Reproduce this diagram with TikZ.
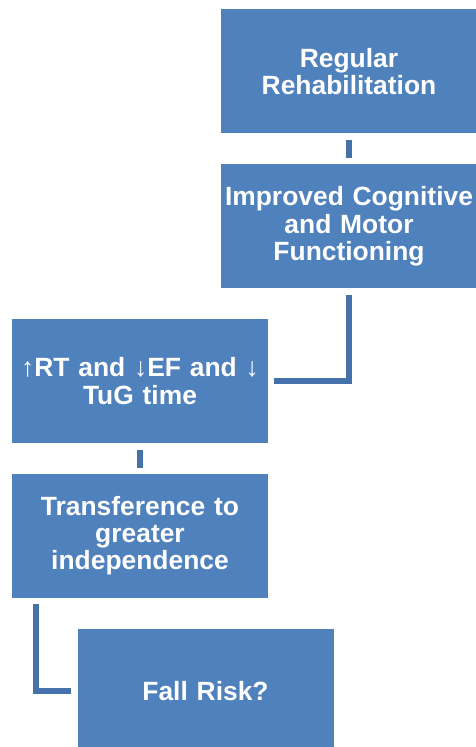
\documentclass[tikz,border=0pt]{standalone}
\usepackage{fontspec}
\setmainfont{Liberation Sans}
\usetikzlibrary{positioning}
\definecolor{boxblue}{HTML}{4F81BD}
\definecolor{linkblue}{HTML}{4672AB}

\begin{document}
\begin{tikzpicture}[
  x=0.5pt, y=-0.5pt,
  node distance=15pt,
  box/.style={rectangle, fill=boxblue, text=white,
              minimum width=128pt, minimum height=62pt,
              text width=124pt, align=center, inner sep=0pt,
              font=\fontsize{13.2}{13.6}\selectfont\bfseries},
  link/.style={draw=linkblue, line width=3pt,
               shorten <=3pt, shorten >=3pt}
]
\useasboundingbox (0,0) rectangle (475,747);

\node[box] (rehab) at (349,71.5) {Regular\\Rehabilitation};

\node[box, below=of rehab] (improved)
  {Improved Cognitive\\and Motor\\Functioning};

\node[box, below=of improved, xshift=-104.5pt] (rt)
  {{\mdseries↑}RT and {\mdseries↓}EF and {\mdseries↓}\\TuG time};

\node[box, below=of rt] (indep)
  {Transference to\\greater\\independence};

\node[box, below=of indep, xshift=32.75pt] (fall) {Fall Risk?};

% connectors
\draw[link] (rehab) -- (improved);
\draw[link] (improved.south) |- (rt.east);
\draw[link] (rt) -- (indep);
\draw[link] ([xshift=-52pt]indep.south) |- (fall.west);
\end{tikzpicture}
\end{document}
